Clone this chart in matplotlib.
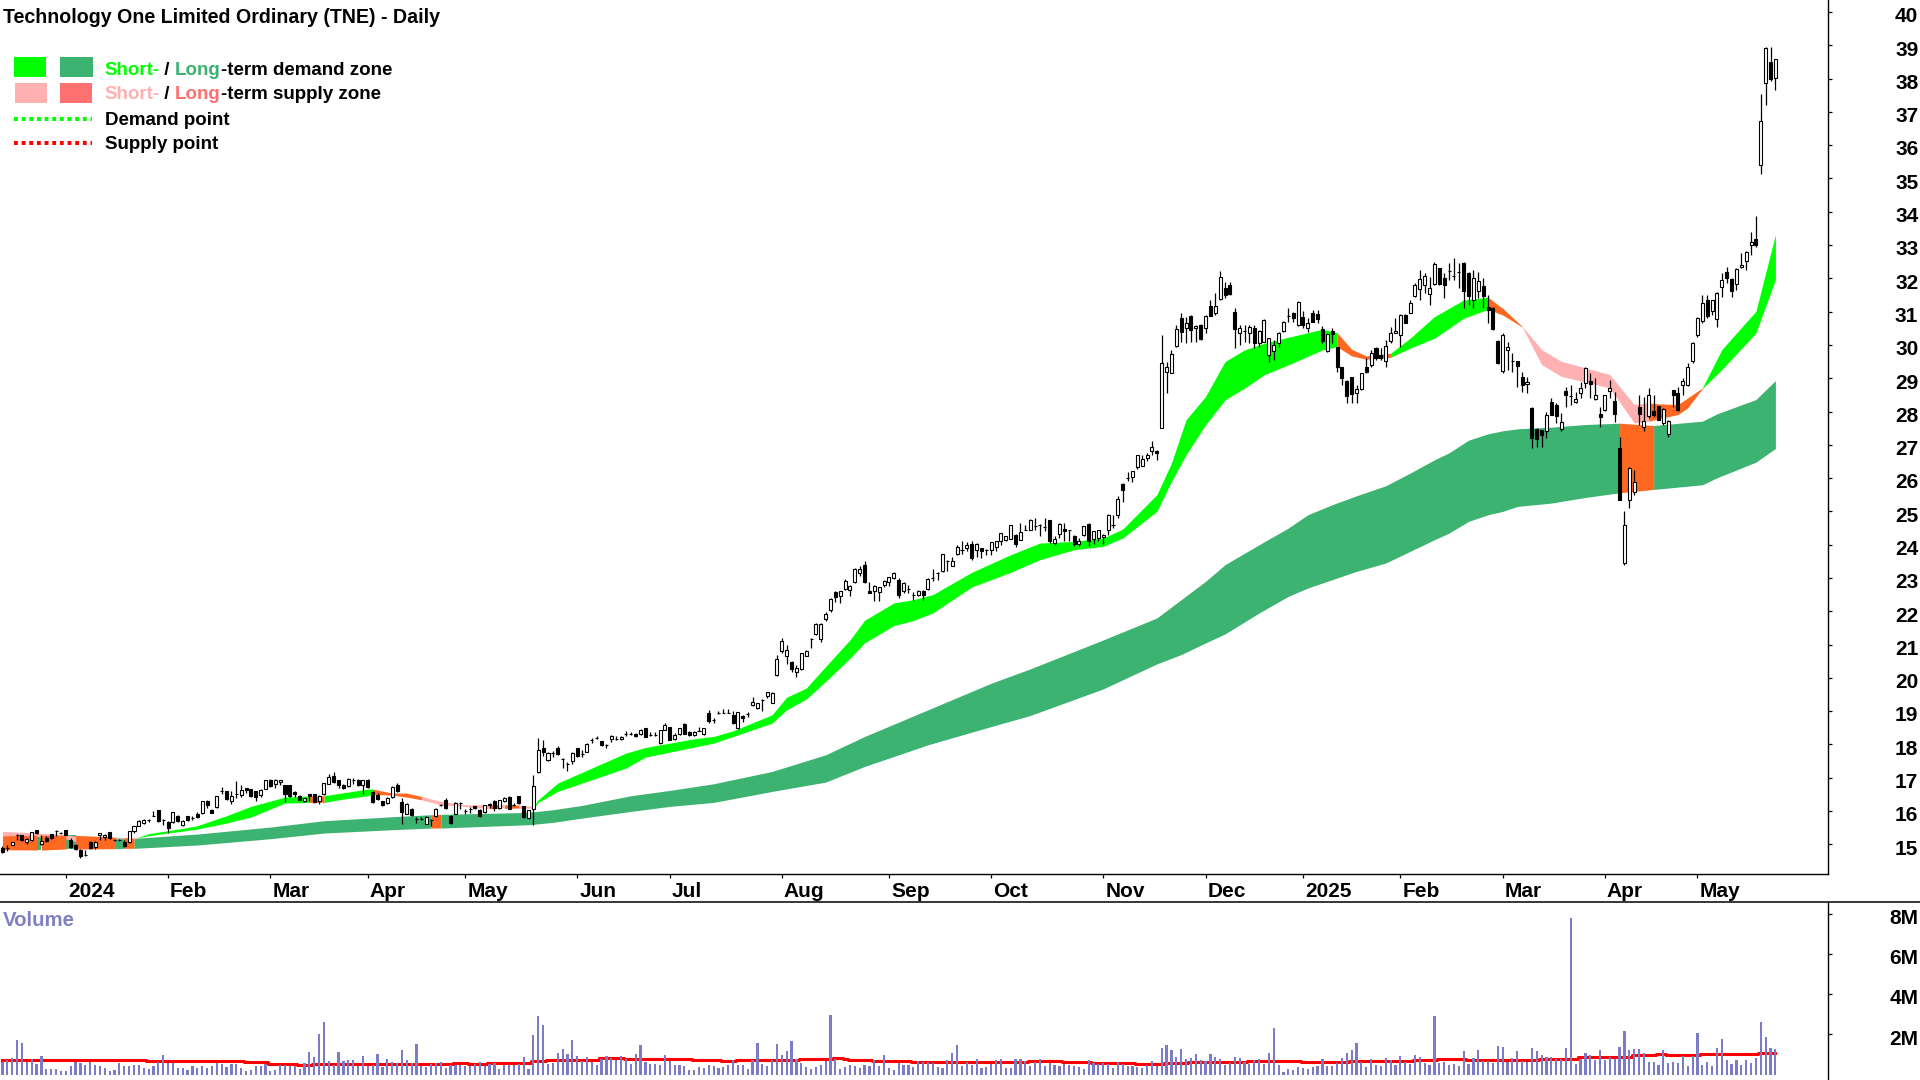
import numpy as np
import matplotlib
matplotlib.use("Agg")
import matplotlib.pyplot as plt
from matplotlib.lines import Line2D
from matplotlib.patches import Rectangle
from matplotlib.transforms import ScaledTranslation

opens = [
14.89,14.89,14.97,15.27,15.27,15.06,15.14,15.42,15.00,15.18,
15.31,15.40,15.34,15.44,15.14,14.99,14.84,14.67,15.08,14.91,
15.27,15.22,15.37,15.14,15.14,15.08,15.08,15.39,15.56,15.64,
15.74,15.86,16.02,15.74,15.67,15.66,15.86,15.59,15.84,15.79,
15.92,15.94,16.30,16.02,16.12,16.59,16.59,16.31,16.51,16.47,
16.69,16.66,16.59,16.47,16.67,16.94,16.82,16.88,16.79,16.79,
16.57,16.46,16.30,16.50,16.51,16.31,16.51,16.82,17.06,16.92,
16.79,16.74,16.92,16.94,16.77,16.92,16.56,16.49,16.29,16.24,
16.42,16.79,16.26,15.92,16.06,15.77,15.76,15.61,15.74,15.84,
16.18,16.32,15.86,15.92,16.24,15.99,16.06,16.14,16.02,15.96,
16.22,16.31,16.09,16.29,16.42,16.19,16.44,16.14,15.79,16.06,
17.17,17.89,17.54,17.74,17.89,17.56,17.41,17.49,17.89,17.72,
17.78,18.14,18.18,18.09,17.97,18.16,18.16,18.16,18.31,18.32,
18.32,18.30,18.48,18.27,18.27,18.04,18.44,18.52,18.16,18.31,
18.62,18.37,18.28,18.41,18.32,18.96,18.74,18.94,18.96,18.96,
18.89,18.49,18.87,18.92,19.18,19.10,19.34,19.46,19.26,20.09,
20.80,20.67,20.47,20.17,20.26,20.67,21.17,21.32,21.17,21.77,
22.05,22.57,22.45,22.67,22.65,22.87,23.15,23.40,22.60,22.60,
22.58,22.78,22.88,23.00,22.93,22.60,22.67,22.48,22.48,22.62,
22.67,23.00,23.15,23.21,23.51,23.37,23.71,23.84,23.89,24.01,
23.85,23.89,23.85,23.85,23.93,24.10,24.15,24.18,24.30,24.15,
24.45,24.45,24.55,24.60,24.53,24.73,24.05,24.33,24.46,24.43,
24.25,24.02,24.28,24.63,24.17,24.20,24.22,24.45,24.60,24.88,
25.82,26.00,26.02,26.33,26.37,26.60,26.82,26.82,27.52,29.18,
29.17,29.97,30.82,30.50,30.88,30.50,30.61,30.50,31.18,30.95,
31.37,31.72,31.79,30.98,30.37,30.43,30.35,30.50,30.07,30.10,
29.70,29.82,30.07,30.42,30.88,30.95,30.60,30.85,30.50,30.97,
30.93,30.48,29.82,30.42,29.93,29.33,28.93,29.03,28.57,28.68,
29.35,29.40,29.92,29.70,29.53,30.12,30.37,30.30,30.90,30.97,
31.47,31.67,31.80,31.53,31.83,32.30,32.00,32.21,32.07,32.20,
32.47,32.15,31.35,31.63,31.77,31.15,31.10,30.13,29.21,29.84,
29.51,29.51,29.03,28.83,28.11,27.49,27.44,27.41,28.28,28.19,
27.48,28.63,28.48,28.29,28.56,28.86,28.93,28.39,27.93,28.04,
28.63,28.33,26.90,23.45,25.35,25.58,28.14,27.54,27.88,28.03,
28.16,27.66,27.33,28.64,28.56,28.79,28.79,29.51,30.31,30.71,
31.34,31.01,30.79,31.74,32.18,31.98,31.83,32.33,32.51,32.99,
33.18,35.39,37.86,38.51,38.01]

closes = [
14.76,14.89,15.07,15.27,15.14,15.16,15.37,15.34,15.09,15.09,
15.18,15.40,15.34,15.29,14.92,14.86,14.64,14.67,14.88,15.08,
15.33,15.29,15.18,15.14,15.14,14.96,15.40,15.54,15.69,15.74,
15.74,15.86,15.69,15.74,15.49,15.96,15.69,15.71,15.74,15.79,
15.82,16.30,16.19,15.94,16.46,16.59,16.36,16.46,16.51,16.62,
16.62,16.44,16.42,16.64,16.92,16.74,16.94,16.92,16.51,16.44,
16.52,16.34,16.38,16.45,16.26,16.46,16.84,17.02,16.86,16.79,
16.69,16.96,16.92,16.77,16.92,16.72,16.27,16.36,16.17,16.39,
16.72,16.59,15.96,16.22,15.88,15.77,15.76,15.82,15.74,16.07,
16.18,16.09,15.64,16.24,16.24,15.99,16.06,16.09,15.86,16.17,
16.17,16.09,16.32,16.39,16.07,16.19,16.24,15.82,16.02,16.74,
17.84,17.76,17.74,17.74,17.71,17.56,17.41,17.74,17.66,17.72,
18.01,18.14,18.18,17.99,17.97,18.26,18.16,18.23,18.31,18.32,
18.24,18.44,18.23,18.27,18.27,18.42,18.59,18.14,18.29,18.49,
18.32,18.28,18.37,18.41,18.49,18.70,18.74,18.94,18.96,18.96,
18.64,18.97,18.79,18.92,19.29,19.24,19.34,19.57,19.56,20.58,
21.12,20.84,20.27,20.29,20.74,20.82,21.17,21.62,21.63,21.93,
22.38,22.42,22.60,22.90,22.75,23.27,23.27,22.88,22.55,22.77,
22.72,22.90,23.02,23.16,22.48,22.85,22.67,22.48,22.62,22.48,
22.98,23.00,23.15,23.71,23.51,23.50,23.92,23.84,24.00,23.60,
24.03,23.80,23.85,24.07,24.10,24.34,24.25,24.58,24.01,24.37,
24.45,24.75,24.55,24.60,24.53,24.12,24.17,24.63,24.41,24.43,
24.02,24.12,24.55,24.12,24.40,24.43,24.30,24.90,24.60,25.36,
25.65,26.00,26.20,26.68,26.57,26.70,26.93,26.75,29.45,29.35,
29.72,30.47,30.40,30.65,30.45,30.58,30.19,30.88,30.88,31.18,
32.05,31.50,31.53,30.48,30.50,30.43,30.53,30.05,30.43,30.75,
30.20,30.00,30.37,30.70,30.88,30.80,31.30,30.60,30.65,30.70,
30.78,30.13,30.32,30.33,29.35,29.00,28.48,28.53,28.68,29.15,
29.18,29.77,29.60,29.60,29.97,30.35,30.43,30.90,30.67,31.25,
31.80,31.97,32.07,31.70,32.42,31.82,31.80,32.21,32.07,32.20,
31.63,31.47,32.02,31.93,31.47,31.05,30.47,29.45,30.29,29.93,
29.51,29.36,28.81,28.89,27.21,27.16,27.31,27.91,27.91,27.86,
27.68,28.49,28.48,28.38,28.71,29.31,28.83,28.49,27.84,28.49,
28.71,27.94,25.33,24.58,26.30,25.87,27.93,27.71,28.49,27.91,
27.76,28.09,27.71,28.51,28.04,28.93,29.34,30.06,30.81,31.26,
30.86,31.34,31.56,31.94,32.01,31.61,32.28,32.40,32.79,33.09,
32.99,36.74,38.91,37.98,38.58]

highs = [
14.96,14.97,15.07,15.32,15.29,15.20,15.37,15.42,15.29,15.24,
15.31,15.42,15.38,15.44,15.20,15.00,14.85,14.82,15.10,15.10,
15.34,15.32,15.37,15.17,15.17,15.12,15.40,15.54,15.74,15.76,
15.75,16.00,16.04,15.76,15.69,15.96,15.88,15.72,15.86,15.84,
15.96,16.30,16.32,16.06,16.46,16.72,16.60,16.60,16.90,16.78,
16.70,16.67,16.60,16.66,16.92,16.96,16.96,16.94,16.79,16.79,
16.59,16.47,16.40,16.52,16.51,16.48,16.84,17.12,17.18,16.94,
16.80,17.00,17.00,16.95,16.94,16.95,16.60,16.55,16.30,16.41,
16.74,16.84,16.40,16.24,16.10,15.82,15.82,15.84,15.76,16.08,
16.22,16.40,15.88,16.26,16.26,16.05,16.12,16.16,16.05,16.19,
16.24,16.33,16.34,16.41,16.44,16.23,16.46,16.16,16.04,17.08,
18.19,18.14,17.76,17.80,17.94,17.58,17.46,17.76,17.90,17.82,
18.03,18.20,18.24,18.11,18.00,18.28,18.26,18.25,18.40,18.36,
18.34,18.46,18.50,18.38,18.38,18.44,18.64,18.54,18.35,18.51,
18.66,18.39,18.39,18.52,18.51,19.04,18.80,19.02,19.08,19.06,
19.00,18.99,18.89,18.98,19.42,19.26,19.36,19.59,19.58,20.70,
21.20,20.98,20.50,20.40,20.76,20.84,21.19,21.64,21.65,21.97,
22.40,22.60,22.62,22.97,22.80,23.29,23.35,23.52,22.87,22.79,
22.74,22.93,23.04,23.18,23.00,22.87,22.80,22.57,22.64,22.64,
23.00,23.27,23.17,23.73,23.53,23.62,24.00,24.10,24.08,24.10,
24.05,23.91,23.87,24.09,24.12,24.36,24.27,24.60,24.32,24.64,
24.60,24.77,24.80,24.62,24.80,24.75,24.27,24.65,24.65,24.45,
24.30,24.20,24.57,24.65,24.42,24.45,24.32,24.92,24.90,25.47,
25.85,26.18,26.22,26.70,26.70,26.76,27.10,26.84,30.30,29.50,
29.85,30.60,30.97,30.85,30.90,30.60,30.63,30.90,31.35,31.55,
32.23,31.90,31.90,31.10,30.60,30.60,30.60,30.60,30.45,30.77,
30.22,30.15,30.39,30.72,31.10,31.00,31.32,31.02,30.80,31.05,
31.05,30.58,30.34,30.50,29.95,29.35,28.95,29.05,28.80,29.17,
29.60,29.85,29.95,29.90,30.15,30.55,30.80,30.92,30.92,31.35,
31.85,32.25,32.15,32.05,32.50,32.32,32.15,32.45,32.60,32.45,
32.49,32.20,32.25,32.20,32.00,31.50,31.13,30.15,30.35,30.10,
29.75,29.53,29.20,29.05,28.13,27.51,27.46,27.99,28.42,28.25,
27.95,28.75,28.80,28.60,28.90,29.33,29.15,29.00,28.15,28.51,
28.95,28.60,27.25,25.00,26.32,26.25,28.50,28.45,28.70,28.50,
28.18,28.11,27.76,28.66,28.75,29.00,29.45,30.08,30.83,31.50,
31.50,31.36,31.58,32.15,32.33,32.00,32.30,32.75,32.81,33.40,
33.87,37.53,38.95,38.95,38.60]

lows = [
14.74,14.81,14.97,15.14,15.09,15.00,15.10,15.30,14.99,15.07,
15.15,15.25,15.30,15.27,14.90,14.84,14.60,14.66,14.86,14.87,
15.14,15.14,15.15,15.10,15.10,14.92,15.05,15.33,15.54,15.60,
15.68,15.85,15.68,15.58,15.34,15.64,15.67,15.55,15.70,15.72,
15.80,15.92,16.10,15.93,16.10,16.52,16.34,16.22,16.38,16.42,
16.55,16.42,16.30,16.42,16.66,16.72,16.70,16.78,16.28,16.42,
16.42,16.32,16.28,16.30,16.24,16.22,16.49,16.80,16.84,16.70,
16.67,16.72,16.80,16.75,16.50,16.70,16.25,16.34,16.15,16.22,
16.38,16.57,15.60,15.90,15.86,15.65,15.72,15.60,15.55,15.82,
16.14,16.07,15.62,15.90,16.05,15.90,15.95,16.07,15.82,15.94,
16.10,16.00,16.07,16.27,16.05,16.15,16.22,15.80,15.77,15.59,
17.15,17.64,17.50,17.62,17.69,17.30,17.20,17.40,17.62,17.62,
17.76,18.04,18.16,17.95,17.90,18.06,18.14,18.14,18.26,18.28,
18.22,18.28,18.21,18.25,18.25,18.02,18.42,18.12,18.14,18.29,
18.30,18.26,18.26,18.40,18.28,18.66,18.64,18.92,18.94,18.94,
18.62,18.47,18.68,18.84,19.16,19.08,19.00,19.40,19.24,20.07,
20.74,20.42,20.18,20.02,20.24,20.65,20.90,21.30,21.08,21.70,
21.99,22.27,22.25,22.65,22.47,22.85,23.05,22.86,22.55,22.30,
22.32,22.72,22.77,22.98,22.40,22.55,22.55,22.33,22.46,22.33,
22.65,22.90,22.95,23.19,23.22,23.35,23.69,23.72,23.80,23.55,
23.62,23.60,23.70,23.70,23.80,23.98,24.10,24.16,23.92,24.13,
24.43,24.43,24.45,24.27,24.40,24.05,24.00,24.20,24.10,24.10,
23.95,23.95,24.25,23.95,24.03,24.10,24.03,24.30,24.50,24.80,
25.28,25.90,25.87,26.27,26.35,26.50,26.70,26.55,27.50,28.55,
29.15,29.95,30.10,30.05,30.10,30.10,30.15,30.35,30.86,30.90,
31.35,31.40,31.51,29.90,30.00,30.10,30.05,29.90,29.95,30.08,
29.50,29.55,29.95,30.40,30.70,30.70,30.58,30.50,30.40,30.68,
30.67,30.05,29.80,30.05,29.20,28.80,28.25,28.25,28.25,28.65,
29.16,29.35,29.55,29.55,29.35,30.05,30.35,29.95,30.65,30.95,
31.45,31.35,31.55,31.20,31.81,31.80,31.40,31.95,31.95,31.70,
31.10,31.20,31.10,31.40,31.10,30.65,30.45,29.43,29.15,29.26,
29.18,28.75,28.60,28.55,26.90,26.92,26.93,27.20,27.89,27.65,
27.43,28.15,28.20,28.25,28.40,28.70,28.40,28.35,27.55,28.02,
28.40,27.70,25.33,23.40,25.10,25.50,27.60,27.42,27.80,27.85,
27.74,27.60,27.25,28.13,28.02,28.50,28.77,29.45,30.25,30.65,
30.80,30.90,30.55,31.45,31.85,31.45,31.65,32.30,32.25,32.70,
32.95,35.13,37.22,37.92,37.65]

volumes_m = [
.64,.71,.81,1.72,1.57,.64,.78,.54,.92,.26,
.28,.28,.18,.18,.43,.63,.58,.50,.61,.48,
.43,.31,.18,.21,.58,.43,.41,.48,.48,.31,
.28,.41,.63,.97,.58,.58,.31,.31,.21,.41,
.35,.41,.35,.41,.58,.51,.38,.51,.51,.31,
.18,.21,.41,.41,.54,.18,.21,.48,.48,.45,
.41,.28,.59,1.11,.87,2.0,2.61,.68,.48,1.11,
.66,.71,.71,.43,.91,.41,.48,1.01,.38,.76,
.64,.59,1.2,.73,.58,1.5,.41,.38,.54,.58,
.61,.31,.48,.48,.48,.41,.41,.51,.64,.43,
.51,.59,.26,.48,.48,.48,.51,.87,.26,1.96,
2.89,2.46,.54,.59,1.07,
1.27,1.02,1.72,.91,.68,.86,.63,.48,.78,.92,
.81,.73,.92,.78,.53,1.02,1.47,.63,.53,.53,
.48,.97,.68,.48,.48,.43,.23,.23,.38,.33,
.48,.43,.33,.38,.48,.71,.48,.48,.28,.73,
1.57,.53,.43,.73,1.52,.97,1.17,1.67,.78,.58,
.38,.28,.38,.48,.68,2.95,.78,.28,.38,.48,
.43,.33,.48,.43,.73,.43,.97,.33,.23,.58,
.48,.48,.38,.68,.63,.63,.58,.38,.33,.73,
1.07,1.47,.43,.63,.48,.78,.33,.38,.53,.73,
.78,.33,.33,.78,.78,.68,.43,
.63,.78,.43,.58,.48,.43,.53,.48,
.43,.38,.28,.73,.58,.53,.58,.53,.33,.63,
.53,.43,.43,.38,.33,.48,.68,.43,1.32,1.47,
1.22,.87,1.27,.78,.83,1.02,.73,.68,1.02,.87,
.78,.48,.58,.87,.83,.63,.53,.73,.78,.53,
1.07,2.31,.48,.13,.28,.23,.38,.33,.28,.38,
.43,.78,.43,.43,.58,.83,1.07,1.22,1.57,.63,
.38,.78,.48,.43,.83,.73,.48,.92,.63,.53,
.97,.87,.58,.48,2.9,.58,.63,.48,.53,.41,
1.17,.53,.81,1.22,.68,.68,.58,1.42,1.37,.61,
.81,1.17,.68,.63,1.32,1.17,.97,.87,.87,.78,
.78,1.32,7.76,.53,.78,1.07,.97,.73,1.22,.73,
.87,.78,1.37,2.16,1.22,1.27,1.27,1.07,.63,.63,
.48,1.22,.58,.63,.58,.92,.43,.92,2.06,.48,
.63,.43,1.32,1.77,.73,.53,.73,.48,.73,.58,
.83,2.6,1.86,1.32,1.27]

vol_avg_values = [.72,.68,.62,.55,.50,.53,.58,.55,.60,.65,.74,.84,.79,.74,.68,.74,.72,.79,.84,.79,.74,.68,
                  .63,.68,.63,.58,.53,.58,.63,.68,.63,.68,.73,.78,.73,.78,.87,.97,1.02,.97,1.02,1.07]
vol_avg_runs = [30,20,5,6,3,29,3,4,9,3,11,5,14,6,3,2,11,7,2,1,5,8,
                24,7,6,9,6,5,12,11,10,13,5,6,15,8,11,5,2,7,12,4]

short_idx = [0,7,13,15,20,26,28,30,37,40,46,51,58,63,66,70,75,76,80,83,86,90,95,100,102,103,106,109,
             110,114,123,128,132,142,146,150,158,161,165,169,174,177,183,187,191,199,207,213,220,226,
             230,237,240,243,247,251,255,259,264,271,274,277,280,285,289,294,300,305,308,312,316,320,330,335,338,
             340,344,346,349,353,360,364]
short_up = [15.39,15.34,15.29,15.24,15.19,15.21,15.22,15.32,15.48,15.56,15.86,16.14,16.42,16.45,16.46,16.55,16.66,16.66,16.54,16.54,16.44,16.29,16.19,16.19,16.19,16.19,16.18,16.14,
            16.34,16.84,17.42,17.74,17.91,18.17,18.24,18.41,18.89,19.42,19.69,20.34,21.14,21.73,22.25,22.35,22.5,23.17,23.7,24.05,24.1,24.2,
            24.47,25.5,26.45,27.75,28.45,29.5,29.85,30.05,30.23,30.47,30.37,29.87,29.67,29.75,30.2,30.85,31.35,31.43,31.1,30.56,29.86,29.51,29.11,28.21,28.26,
            28.23,28.21,28.41,28.71,29.86,31.01,33.31]
short_lo = [15.26,15.24,15.17,15.09,15.14,15.18,15.20,15.26,15.40,15.46,15.64,15.82,16.24,16.26,16.26,16.36,16.46,16.50,16.48,16.42,16.34,16.19,16.14,16.07,16.08,16.08,16.09,16.09,
            16.26,16.59,17.04,17.29,17.62,17.92,18.04,18.24,18.64,19.04,19.36,19.89,20.59,21.05,21.57,21.72,21.95,22.73,23.17,23.55,23.85,23.95,
            24.2,25.0,25.9,26.7,27.6,28.35,28.7,29.1,29.4,29.85,29.95,29.67,29.57,29.63,29.9,30.2,30.8,31.07,30.9,30.54,29.41,29.06,28.71,27.66,27.71,
            27.78,27.91,28.11,28.69,29.26,30.36,31.96]
short_zone = (["p"]*6 + ["g"]*7 + ["o"] + ["g"]*3 + ["o"]*3 + ["p"]*3 + ["o","p","o","p","g"] + ["g"]*32
              + ["o"]*3 + ["g"]*4 + ["o"]*2 + ["p"]*5 + ["o"]*4 + ["g"]*3)

long_idx = [0,7,8,13,15,23,25,27,40,55,66,80,88,90,108,113,119,129,137,146,158,169,177,190,203,211,226,237,242,247,251,
            258,264,268,273,278,284,289,294,297,301,305,308,311,318,325,332,339,349,352,360,364]
long_up = [15.26,15.27,15.27,15.27,15.27,15.22,15.20,15.18,15.31,15.52,15.71,15.83,15.89,15.90,15.96,16.04,16.17,16.46,16.62,16.82,17.19,17.69,18.24,19.04,19.84,20.27,21.14,21.8,22.35,22.9,23.4,
           24.0,24.5,24.9,25.2,25.47,25.77,26.15,26.55,26.76,27.14,27.33,27.42,27.48,27.53,27.61,27.65,27.58,27.71,27.93,28.36,28.93]
long_lo = [14.84,14.83,14.83,14.86,14.86,14.87,14.88,14.88,14.98,15.17,15.34,15.44,15.49,15.49,15.59,15.66,15.79,15.99,16.14,16.26,16.59,16.87,17.34,17.99,18.54,18.87,19.67,20.42,20.7,21.05,21.32,
           21.95,22.45,22.7,22.95,23.2,23.45,23.8,24.15,24.35,24.7,24.9,25.0,25.15,25.25,25.42,25.56,25.66,25.8,26.01,26.48,26.89]
long_zone = ["o","d","o","d","o","d","o"] + ["d"]*5 + ["o"] + ["d"]*33 + ["o"] + ["d"]*4

price_ticks = list(range(15, 41))
volume_ticks = [2, 4, 6, 8]
volume_labels = ["2M", "4M", "6M", "8M"]
date_idx = [13,34,55,75,95,118,137,160,182,203,226,247,267,287,308,329,348]
date_labels = ["2024","Feb","Mar","Apr","May","Jun","Jul","Aug","Sep","Oct","Nov","Dec","2025","Feb","Mar","Apr","May"]

assert len(opens)==365 and len(closes)==365 and len(highs)==365 and len(lows)==365, (len(opens),len(closes),len(highs),len(lows))
assert len(volumes_m)==365, len(volumes_m)
assert sum(vol_avg_runs)==365, sum(vol_avg_runs)
assert len(short_idx)==len(short_up)==len(short_lo)==len(short_zone)+1, (len(short_idx),len(short_up),len(short_lo),len(short_zone))
assert len(long_idx)==len(long_up)==len(long_lo)==len(long_zone)+1, (len(long_idx),len(long_up),len(long_lo),len(long_zone))

GREEN, DGREEN, PALE, ORANGE, LRED = "#00ff00", "#3cb371", "#ffb0b0", "#ff6820", "#ff7070"
ZONE = {"g": GREEN, "d": DGREEN, "p": PALE, "o": ORANGE}
FONT = "Liberation Sans"
W, H = 1920, 1080
plt.rcParams["font.family"] = [FONT, "DejaVu Sans"]
plt.rcParams["font.weight"] = "bold"
FS_TICK = 15
FS_TITLE = 14.1
FS_LEG = 13.5

fig = plt.figure(figsize=(W/100, H/100), dpi=100, facecolor="white")
SP = 1828
PB = 874
VT = 902
ax = fig.add_axes([0, 1-PB/H, SP/W, PB/H])
vx = fig.add_axes([0, 0, SP/W, (H-VT)/H])
xlim = (-0.513, 374.8)
ax.set_xlim(xlim); vx.set_xlim(xlim)
ax.set_ylim(14.11, 40.36)
vx.set_ylim(-0.27, 8.58)


def zones(a, idx, up, lo, zone):
    start = 0
    for k in range(1, len(zone)+1):
        if k == len(zone) or zone[k] != zone[start]:
            a.fill_between(idx[start:k+1], up[start:k+1], lo[start:k+1], color=ZONE[zone[start]], lw=0, zorder=1+(zone[start] == "o")*0.1)
            start = k


zones(ax, long_idx, long_up, long_lo, long_zone)
zones(ax, short_idx, short_up, short_lo, short_zone)

x = np.arange(len(opens))
o, c, hi, lo = map(np.array, (opens, closes, highs, lows))
ax.vlines(x, lo, hi, color="black", lw=0.9, zorder=3)
down = c < o
ax.bar(x, np.abs(c-o), bottom=np.minimum(o, c), width=0.62, color=np.where(down, "black", "white"),
       edgecolor="black", lw=0.8, zorder=4)

vx.step(x, np.repeat(vol_avg_values, vol_avg_runs), where="mid", color="#ff0000", lw=2.2, zorder=2)
vx.bar(x, volumes_m, width=0.45, color="#7b7bc8", lw=0, zorder=3)

for a in (ax, vx):
    for s in ("left", "top", "bottom"):
        a.spines[s].set_visible(False)
    a.spines["right"].set_linewidth(1.0)
    a.yaxis.tick_right()
    a.tick_params(axis="y", length=3.2, width=0.9, pad=61.8, labelsize=FS_TICK)
    a.patch.set_alpha(0)
ax.spines["bottom"].set_visible(True)
ax.spines["bottom"].set_linewidth(1.0)

ax.set_yticks(price_ticks)
ax.set_yticklabels([str(t) for t in price_ticks])
vx.set_yticks(volume_ticks)
vx.set_yticklabels(volume_labels)
down_off = ScaledTranslation(0, -2.8/100, fig.dpi_scale_trans)
for a in (ax, vx):
    for t in a.get_yticklabels():
        t.set_ha("right")
        t.set_transform(t.get_transform() + down_off)
vx.set_xticks([])
ax.set_xticks(date_idx)
ax.set_xticklabels(date_labels, ha="left")
ax.tick_params(axis="x", length=3.2, width=0.9, pad=2.4, labelsize=FS_TICK)
off = ScaledTranslation(2/100, 0, fig.dpi_scale_trans)
for t in ax.get_xticklabels():
    t.set_transform(t.get_transform() + off)

fig.add_artist(Line2D([0, 1], [1-VT/H, 1-VT/H], color="black", lw=1.1, transform=fig.transFigure))


def put(xp, yp, s, color="black", size=FS_LEG):
    return fig.text(xp/W, 1-yp/H, s, color=color, fontsize=size, va="center", ha="left", fontweight="bold")


put(3, 17.7, "Technology One Limited Ordinary (TNE) - Daily", size=FS_TITLE)
put(3, 921, "Volume", color="#8080c0", size=14.7)

for (x0, y0, wd, ht, col) in [(14, 57, 32, 20, GREEN), (60, 57, 33, 20, DGREEN), (15, 83, 32, 20, PALE), (60, 83, 32, 20, LRED)]:
    fig.add_artist(Rectangle((x0/W, 1-(y0+ht)/H), wd/W, ht/H, color=col, lw=0, transform=fig.transFigure))
for (yp, col) in [(119, "#00ff00"), (143, "#ff0000")]:
    fig.add_artist(Line2D([14/W, 92/W], [1-yp/H, 1-yp/H], color=col, lw=2.9, ls=(0, (0.95, 0.95)), transform=fig.transFigure))

renderer = fig.canvas.get_renderer()


def chain(xp, yp, parts):
    for s, col in parts:
        t = put(xp, yp, s, color=col)
        xp = t.get_window_extent(renderer).x1


chain(104, 70.3, [("Short-", GREEN), (" / ", "black"), ("Long", DGREEN), ("-term demand zone", "black")])
chain(104, 94.8, [("Short-", PALE), (" / ", "black"), ("Long", LRED), ("-term supply zone", "black")])
put(105, 120.5, "Demand point")
put(105, 144.5, "Supply point")

fig.savefig("out.png", dpi=100, facecolor="white")
